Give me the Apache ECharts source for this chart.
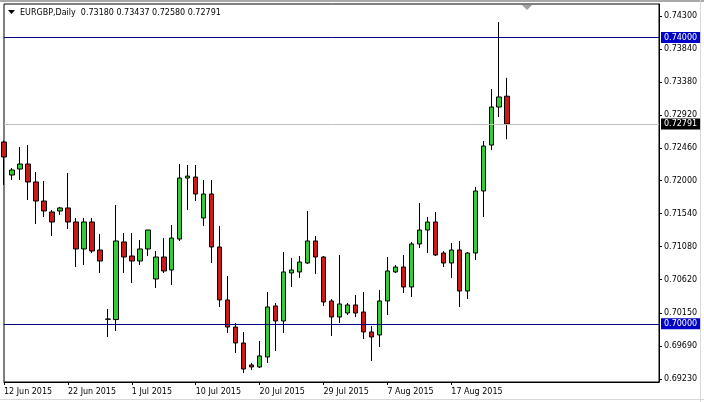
<!DOCTYPE html>
<html>
<head>
<meta charset="utf-8">
<script src="https://cdn.jsdelivr.net/npm/echarts@6.0.0/dist/echarts.min.js"></script>
<style>
html, body { margin: 0; padding: 0; background: #fff; }
#chart_eurgbp { width: 704px; height: 402px; }
</style>
</head>
<body>
<div id="chart_eurgbp"></div>
<script>
// daily bars, MT4 style (includes the short Sunday bars)
const dates = [
  '12 Jun 2015', '14 Jun 2015', '15 Jun 2015', '16 Jun 2015', '17 Jun 2015', '18 Jun 2015', '19 Jun 2015', '21 Jun 2015',
  '22 Jun 2015', '23 Jun 2015', '24 Jun 2015', '25 Jun 2015', '26 Jun 2015', '28 Jun 2015', '29 Jun 2015', '30 Jun 2015',
  '1 Jul 2015', '2 Jul 2015', '3 Jul 2015', '5 Jul 2015', '6 Jul 2015', '7 Jul 2015', '8 Jul 2015', '9 Jul 2015',
  '10 Jul 2015', '12 Jul 2015', '13 Jul 2015', '14 Jul 2015', '15 Jul 2015', '16 Jul 2015', '17 Jul 2015', '19 Jul 2015',
  '20 Jul 2015', '21 Jul 2015', '22 Jul 2015', '23 Jul 2015', '24 Jul 2015', '26 Jul 2015', '27 Jul 2015', '28 Jul 2015',
  '29 Jul 2015', '30 Jul 2015', '31 Jul 2015', '2 Aug 2015', '3 Aug 2015', '4 Aug 2015', '5 Aug 2015', '6 Aug 2015',
  '7 Aug 2015', '9 Aug 2015', '10 Aug 2015', '11 Aug 2015', '12 Aug 2015', '13 Aug 2015', '14 Aug 2015', '16 Aug 2015',
  '17 Aug 2015', '18 Aug 2015', '19 Aug 2015', '20 Aug 2015', '21 Aug 2015', '23 Aug 2015', '24 Aug 2015', '25 Aug 2015'
]
const opens = [
  0.72540, 0.72079, 0.72163, 0.72233, 0.71982, 0.71716, 0.71563, 0.71577,
  0.71619, 0.71423, 0.71046, 0.71423, 0.71032, 0.70068, 0.70060, 0.71144,
  0.70948, 0.70878, 0.71046, 0.70627, 0.70934, 0.70753, 0.71185, 0.72037,
  0.72051, 0.71479, 0.71814, 0.71074, 0.70334, 0.69956, 0.69733, 0.69426,
  0.69398, 0.69538, 0.70250, 0.70040, 0.70711, 0.70725, 0.70850, 0.71158,
  0.70934, 0.70320, 0.70096, 0.70152, 0.70264, 0.70166, 0.69887, 0.69845,
  0.70320, 0.70725, 0.70794, 0.70515, 0.71116, 0.71311, 0.71423, 0.70990,
  0.70850, 0.71032, 0.70459, 0.70990, 0.71856, 0.72498, 0.73029, 0.73180
]
const highs = [
  0.72560, 0.72177, 0.72470, 0.72498, 0.72121, 0.71996, 0.71591, 0.71632,
  0.72107, 0.71479, 0.71479, 0.71479, 0.71255, 0.70208, 0.71660, 0.71269,
  0.71269, 0.71172, 0.71311, 0.71018, 0.71199, 0.71381, 0.72233, 0.72219,
  0.72219, 0.72010, 0.72010, 0.71367, 0.70669, 0.70012, 0.69887, 0.69454,
  0.69761, 0.70445, 0.70292, 0.71004, 0.70920, 0.70948, 0.71577, 0.71227,
  0.70948, 0.70348, 0.70962, 0.70292, 0.70403, 0.70445, 0.69970, 0.70473,
  0.70934, 0.70822, 0.70962, 0.71144, 0.71688, 0.71493, 0.71563, 0.71018,
  0.71130, 0.71158, 0.71004, 0.71912, 0.72554, 0.73280, 0.74216, 0.73437
]
const lows = [
  0.71940, 0.72010, 0.72010, 0.71730, 0.71395, 0.71493, 0.71227, 0.71521,
  0.71325, 0.70794, 0.70822, 0.70990, 0.70711, 0.69817, 0.69901, 0.70711,
  0.70571, 0.70822, 0.70948, 0.70501, 0.70711, 0.70543, 0.71158, 0.71591,
  0.71716, 0.71367, 0.70850, 0.70236, 0.69873, 0.69593, 0.69314, 0.69356,
  0.69384, 0.69454, 0.69621, 0.69873, 0.70515, 0.70641, 0.70836, 0.70697,
  0.70250, 0.69831, 0.70012, 0.70124, 0.70096, 0.69789, 0.69482, 0.69677,
  0.70124, 0.70711, 0.70431, 0.70376, 0.71060, 0.70990, 0.70948, 0.70794,
  0.70641, 0.70236, 0.70348, 0.70892, 0.71493, 0.72428, 0.72889, 0.72580
]
const closes = [
  0.72331, 0.72149, 0.72233, 0.71982, 0.71716, 0.71577, 0.71423, 0.71619,
  0.71423, 0.71046, 0.71423, 0.71018, 0.70878, 0.70065, 0.71158, 0.70934,
  0.70878, 0.71046, 0.71311, 0.70934, 0.70739, 0.71199, 0.72037, 0.72065,
  0.71814, 0.71814, 0.71074, 0.70334, 0.69956, 0.69733, 0.69370, 0.69398,
  0.69552, 0.70236, 0.70040, 0.70725, 0.70753, 0.70864, 0.71158, 0.70934,
  0.70306, 0.70096, 0.70278, 0.70264, 0.70152, 0.69887, 0.69817, 0.70320,
  0.70739, 0.70794, 0.70515, 0.71116, 0.71311, 0.71423, 0.70962, 0.70850,
  0.71032, 0.70459, 0.70990, 0.71856, 0.72484, 0.73029, 0.73169, 0.72791
]
const priceTicks = [0.69230, 0.69690, 0.70150, 0.70620, 0.71080, 0.71540, 0.72000, 0.72460, 0.72920, 0.73380, 0.73840, 0.74300]
const levelLines = [0.74000, 0.70000]
const bidPrice = 0.72791

const FONT = 'DejaVu Sans'
const last = dates.length - 1

const initChartF = () => {
  const chart = echarts.init(document.getElementById('chart_eurgbp'))

  // empty slots on the right = MT4 chart shift
  const categories = dates.concat(new Array(19).fill(''))
  const candles = dates.map((d, i) => [opens[i], closes[i], lows[i], highs[i]])
  const showDate = (i) => i % 8 === 0 && i <= last

  const levelMark = (v, lineColor, boxColor) => ({
    yAxis: v,
    lineStyle: { color: lineColor, width: 1, type: 'solid' },
    label: {
      show: true,
      position: 'end',
      distance: 2,
      formatter: v.toFixed(5),
      color: '#fff',
      backgroundColor: boxColor,
      padding: [2, 3, 1, 3],
      fontFamily: FONT,
      fontSize: 8
    }
  })

  const option = {
    animation: false,
    backgroundColor: '#fff',
    title: {
      text: 'EURGBP,Daily  ' + [opens[last], highs[last], lows[last], closes[last]].map(v => v.toFixed(5)).join(' '),
      left: 20,
      top: 9,
      padding: 0,
      textStyle: { fontFamily: FONT, fontSize: 8, fontWeight: 'normal', color: '#000' }
    },
    grid: {
      left: 4,
      right: 45,
      top: 4,
      bottom: 20,
      show: true,
      borderColor: '#000',
      borderWidth: 1,
      backgroundColor: '#fff'
    },
    xAxis: {
      type: 'category',
      data: categories,
      boundaryGap: false,
      axisLine: { show: true, lineStyle: { color: '#000' } },
      axisTick: { show: true, interval: showDate, length: 3, lineStyle: { color: '#000' } },
      axisLabel: {
        interval: showDate,
        align: 'left',
        margin: 6,
        color: '#000',
        fontFamily: FONT,
        fontSize: 8
      },
      splitLine: { show: false }
    },
    yAxis: {
      type: 'value',
      position: 'right',
      min: 0.69188,
      max: 0.74468,
      axisLine: { show: true, lineStyle: { color: '#000' } },
      axisTick: { show: true, customValues: priceTicks, length: 3, lineStyle: { color: '#000' } },
      axisLabel: {
        customValues: priceTicks,
        formatter: (v) => v.toFixed(5),
        margin: 5,
        color: '#000',
        fontFamily: FONT,
        fontSize: 8
      },
      splitLine: { show: false }
    },
    series: [
      {
        name: 'EURGBP',
        type: 'candlestick',
        barWidth: 5,
        data: candles,
        itemStyle: {
          color: '#32cd32',
          color0: '#cc1a1a',
          borderColor: '#000',
          borderColor0: '#000',
          borderWidth: 1
        },
        markLine: {
          silent: true,
          precision: 5,
          symbol: ['none', 'none'],
          data: [
            levelMark(bidPrice, '#c0c0c0', '#000'),
            levelMark(levelLines[0], '#000080', '#0000c8'),
            levelMark(levelLines[1], '#000080', '#0000c8')
          ]
        }
      }
    ],
    graphic: [
      { type: 'rect', shape: { x: 0, y: 0, width: 704, height: 2 }, style: { fill: '#a8a8a8' }, silent: true },
      { type: 'polygon', shape: { points: [[8, 10], [15, 10], [11.5, 14]] }, style: { fill: '#000' }, silent: true },
      { type: 'polygon', shape: { points: [[522, 5], [532, 5], [527, 10]] }, style: { fill: '#a0a0a0' }, silent: true },
      { type: 'line', shape: { x1: 700.5, y1: 0, x2: 700.5, y2: 402 }, style: { stroke: '#d8d8d8' }, silent: true },
      { type: 'line', shape: { x1: 0, y1: 399.5, x2: 704, y2: 399.5 }, style: { stroke: '#d8d8d8' }, silent: true }
    ]
  }
  chart.setOption(option)
}

initChartF()
</script>
</body>
</html>
